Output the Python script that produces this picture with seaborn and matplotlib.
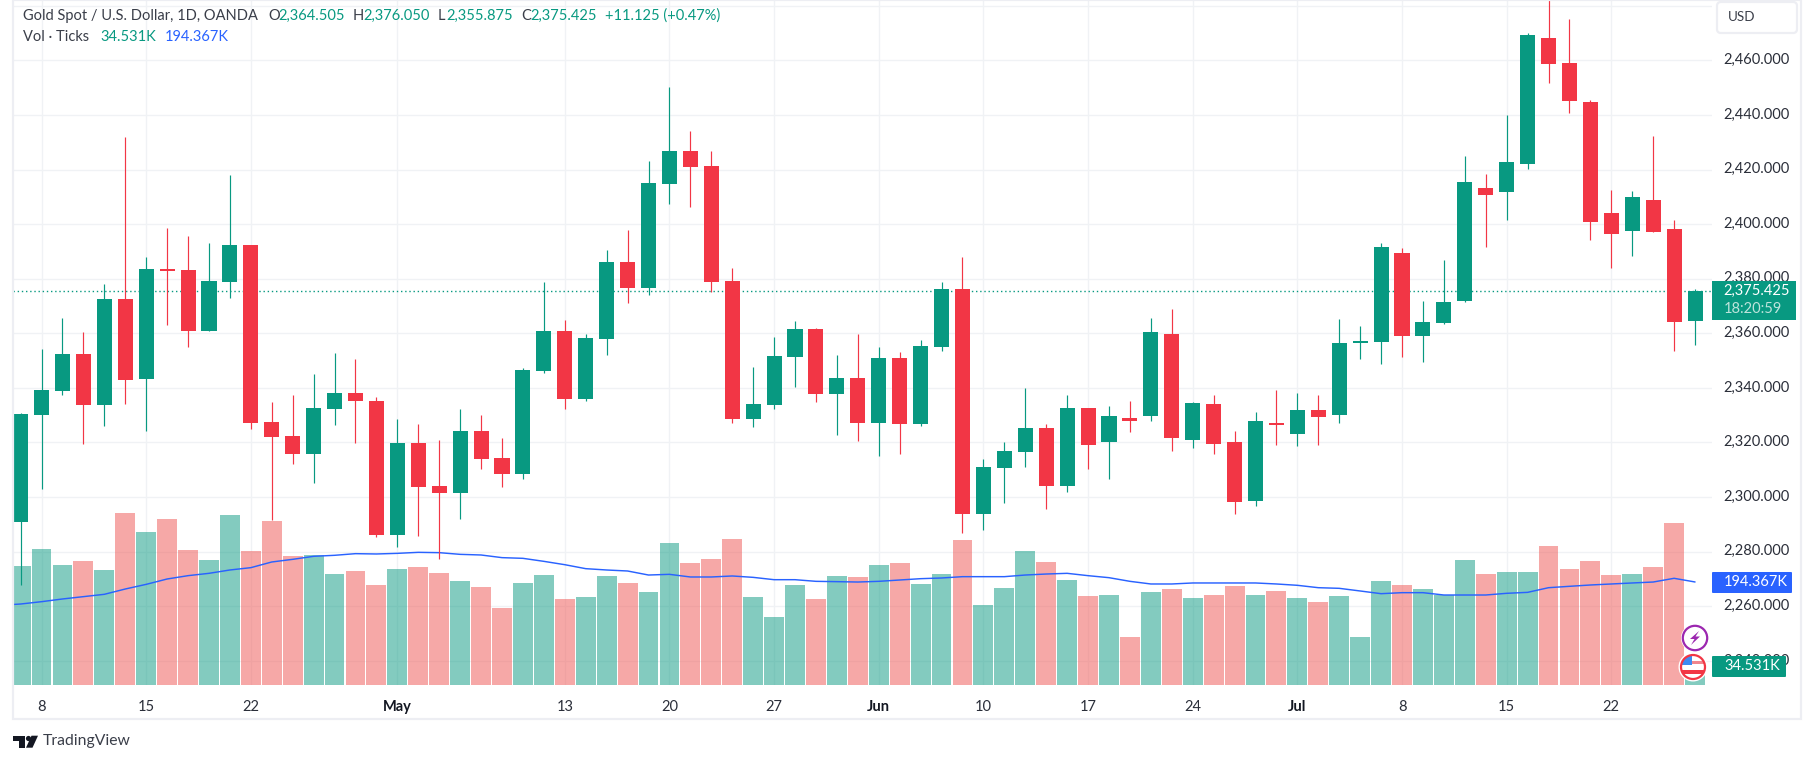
import numpy as np
import pandas as pd
import matplotlib
matplotlib.use("Agg")
import matplotlib.pyplot as plt
from matplotlib.patches import Rectangle, FancyBboxPatch, Circle, Polygon
from matplotlib.transforms import ScaledTranslation
import seaborn as sns

# ---------- data ----------
opens = [2290.8,2330.0,2338.9,2352.4,2333.7,2372.6,2343.1,2383.5,2383.2,2360.9,2378.8,2392.3,2327.5,2322.3,2315.8,2332.2,2338.1,2335.1,2286.1,2319.8,
         2304.0,2301.5,2324.1,2314.3,2308.4,2346.2,2360.9,2335.9,2358.0,2386.2,2376.6,2414.7,2426.8,2421.3,2379.2,2328.6,2333.7,2351.3,2361.6,2337.8,
         2343.7,2327.1,2351.0,2326.7,2355.0,2376.2,2293.7,2310.6,2316.5,2325.2,2304.0,2332.6,2320.1,2328.9,2329.7,2359.8,2320.8,2334.0,2320.1,2298.5,
         2327.1,2323.0,2331.9,2330.0,2356.4,2356.8,2389.4,2359.1,2363.8,2371.9,2413.3,2411.8,2422.0,2468.2,2459.0,2444.7,2404.1,2397.4,2408.8,2398.3,2364.505]
highs = [2330.9,2354.2,2365.6,2360.5,2378.1,2431.9,2388.0,2398.6,2395.6,2393.1,2418.0,2392.3,2334.8,2337.4,2345.2,2352.8,2350.5,2336.7,2328.6,2326.7,
         2320.8,2332.2,2330.0,2321.6,2347.3,2378.8,2364.9,2359.8,2390.5,2397.9,2423.1,2450.2,2434.1,2426.8,2384.0,2347.7,2358.7,2364.5,2362.0,2352.0,
         2359.8,2355.0,2353.2,2357.6,2378.8,2388.0,2313.9,2320.1,2340.1,2326.7,2337.4,2332.6,2333.3,2335.1,2365.6,2368.9,2334.8,2337.4,2324.1,2331.1,
         2339.1,2338.0,2337.4,2365.2,2362.7,2393.1,2391.3,2371.9,2386.9,2424.9,2418.4,2440.0,2470.0,2482.2,2475.1,2445.5,2412.5,2412.2,2432.3,2401.5,2376.05]
lows = [2267.7,2302.9,2337.4,2319.5,2325.9,2334.0,2324.1,2363.1,2355.0,2360.9,2373.0,2324.8,2291.6,2312.0,2305.1,2326.3,2319.8,2285.4,2281.6,2285.7,
        2277.3,2291.9,2310.2,2303.7,2306.6,2345.5,2332.2,2335.1,2352.0,2371.2,2374.1,2407.4,2406.3,2375.2,2327.1,2325.6,2332.2,2340.3,2334.8,2322.7,
        2320.5,2315.0,2315.8,2325.9,2353.5,2286.8,2287.9,2297.7,2310.9,2295.6,2301.8,2310.2,2306.6,2323.8,2327.9,2316.8,2317.9,2315.8,2293.7,2296.6,
        2319.0,2318.7,2319.0,2327.1,2350.6,2348.8,2351.3,2349.5,2363.4,2371.5,2391.6,2401.5,2420.2,2451.7,2440.7,2394.2,2384.0,2388.3,2397.1,2353.5,2355.875]
closes = [2330.4,2339.2,2352.4,2333.7,2372.6,2343.0,2383.5,2382.8,2360.9,2379.2,2392.3,2327.1,2321.9,2315.8,2332.6,2338.1,2335.1,2286.1,2319.8,2303.7,
          2301.5,2324.1,2313.9,2308.4,2346.6,2360.9,2335.9,2358.3,2386.2,2376.6,2415.1,2426.8,2420.9,2378.8,2328.6,2334.0,2351.6,2361.6,2337.8,2343.7,
          2327.1,2351.0,2326.7,2355.3,2376.2,2293.7,2310.9,2316.8,2325.2,2304.0,2332.6,2319.0,2329.7,2327.9,2360.5,2321.6,2334.4,2319.4,2298.1,2327.9,
          2326.3,2331.9,2329.3,2356.4,2357.0,2391.6,2359.1,2364.1,2371.5,2415.5,2410.6,2422.7,2469.3,2458.7,2445.1,2400.8,2396.3,2410.0,2397.1,2364.1,2375.425]
volume_k = [224.5,256.6,226.4,234.0,217.0,324.5,288.7,313.2,254.7,235.8,320.8,252.8,309.4,243.4,245.3,209.4,215.1,188.7,218.9,222.6,
            211.3,196.2,184.9,145.3,192.5,207.5,162.3,166.0,205.7,192.5,175.5,267.9,230.2,237.7,275.5,166.0,128.3,188.7,162.3,205.7,
            203.8,226.4,230.2,190.6,209.4,273.6,150.9,183.0,252.8,232.1,198.1,167.9,169.8,90.6,175.5,181.1,164.2,169.8,186.8,169.8,
            177.4,164.2,156.6,167.9,90.6,196.2,188.7,181.1,169.8,235.8,209.4,213.2,213.2,262.3,218.9,234.0,207.5,209.4,222.6,305.7,34.531]
# the moving average starts one session before the first visible bar
volume_ma_k = [150.3,152.8,157.2,162.3,166.7,171.1,181.1,189.9,200.0,206.3,210.7,217.0,221.4,232.1,237.1,242.8,244.7,247.8,247.2,248.4,250.3,
               249.7,246.5,245.3,240.3,239.0,233.3,227.0,219.5,217.0,215.1,207.5,208.8,203.8,203.8,205.7,203.1,198.7,198.7,195.6,195.0,
               194.3,195.6,198.1,200.6,201.9,204.4,204.4,204.4,207.5,209.4,210.7,206.3,202.5,195.6,190.6,190.6,192.5,192.5,192.5,192.5,
               190.6,188.1,183.6,182.4,177.4,172.3,174.2,174.2,169.8,169.8,169.8,173.0,174.8,183.6,186.2,188.7,190.6,192.5,194.3,201.3,194.367]
date_tick_positions = [1,6,11,18,26,31,36,41,46,51,56,61,66,71,76]
date_tick_labels = ["8","15","22","May","13","20","27","Jun","10","17","24","Jul","8","15","22"]
month_labels = ["May","Jun","Jul"]
price_ticks = [2240,2260,2280,2300,2320,2340,2360,2380,2400,2420,2440,2460]
grid_prices = price_ticks + [2480]
last_price = 2375.425

# ---------- style ----------
W, H = 1815, 764
GREEN, RED, BLUE = "#089981", "#F23645", "#2962FF"
TEXT = "#131722"
GRID = "#F0F2F5"
BORDER = "#EDEEF3"
sns.set_theme(style="white")
plt.rcParams["font.family"] = ["Lato", "DejaVu Sans"]
FS = 10.5

df = pd.DataFrame({"idx": np.arange(len(opens)), "open": opens, "high": highs, "low": lows,
                   "close": closes, "vol": volume_k})
df["dir"] = np.where(df.close >= df.open, "up", "down")
ma_df = pd.DataFrame({"idx": np.arange(-1, len(opens)), "ma": volume_ma_k})

fig = plt.figure(figsize=(W/100, H/100), dpi=100, facecolor="white")
L, R, T, B = 13, 1712, 0, 685
rect = [L/W, 1-B/H, (R-L)/W, (B-T)/H]
ax_vol = fig.add_axes(rect, zorder=1)
ax = fig.add_axes(rect, zorder=2, facecolor="none")
overlay = fig.add_axes([0, 0, 1, 1], zorder=5, facecolor="none")
overlay.set_xlim(0, W); overlay.set_ylim(H, 0); overlay.axis("off")

xlim = (-0.363, 80.81)
ylim = (2231.17, 2482.09)

# volume
for xt in date_tick_positions:
    ax_vol.axvline(xt, color=GRID, lw=1, zorder=0)
sns.barplot(data=df, x="idx", y="vol", hue="dir", palette={"up": "#089981", "down": "#EF5350"},
            hue_order=["up", "down"], dodge=False, width=0.95, saturation=1, alpha=0.5,
            linewidth=0, legend=False, ax=ax_vol, zorder=2)
sns.lineplot(data=ma_df, x="idx", y="ma", color=BLUE, lw=1.05, errorbar=None, legend=False, ax=ax_vol, zorder=3)
ax_vol.set_xlim(xlim); ax_vol.set_ylim(0, 685/0.53)
ax_vol.set_xticks([]); ax_vol.set_yticks([]); ax_vol.set_xlabel(""); ax_vol.set_ylabel("")
for p in grid_prices:
    y = (p-ylim[0])/(ylim[1]-ylim[0])*685/0.53
    ax_vol.axhline(y, color=GRID, lw=1, zorder=0)
sns.despine(ax=ax_vol, left=True, bottom=True, right=True, top=True)

# candles
colors = df.dir.map({"up": GREEN, "down": RED})
ax.vlines(df.idx, df.low, df.high, colors=colors, lw=0.85, zorder=3)
ax.bar(df.idx, (df.close-df.open).abs(), bottom=df[["open", "close"]].min(axis=1),
       width=0.72, color=colors, linewidth=0, zorder=4)
ax.axhline(last_price, color=GREEN, lw=1, ls=(0, (1, 2)), zorder=2)
ax.set_xlim(xlim); ax.set_ylim(ylim)
ax.yaxis.tick_right()
ax.set_yticks(price_ticks)
ax.set_yticklabels([f"{p:,.3f}" for p in price_ticks], fontsize=FS, color="#2A2E39")
ax.set_xticks(date_tick_positions)
ax.set_xticklabels(date_tick_labels, fontsize=FS, color="#2A2E39")
for t in ax.get_xticklabels():
    if t.get_text() in month_labels:
        t.set_fontweight("bold"); t.set_color(TEXT)
ax.tick_params(axis="y", length=0, pad=8)
ax.tick_params(axis="x", length=0, pad=10.5)
# the price labels sit slightly above their gridlines
lift = ScaledTranslation(0, 2/100, fig.dpi_scale_trans)
for t in ax.get_yticklabels():
    t.set_transform(t.get_transform() + lift)
for s in ax.spines.values():
    s.set_visible(False)

# frame
overlay.add_patch(Rectangle((13, 0), 1788, 719, fill=False, edgecolor=BORDER, lw=1.6, zorder=1))

# header
def htext(x, y, s, c=TEXT, **k):
    overlay.text(x, y, s, color=c, fontsize=k.pop("fs", FS), va="center", ha="left", **k)
TXT2 = "#3A3E49"
htext(23, 16, "Gold Spot / U.S. Dollar, 1D, OANDA", TXT2)
for x, s in [(268, "O"), (353, "H"), (438, "L"), (521, "C")]:
    htext(x, 16, s, TXT2)
for x, s in [(278, "2,364.505"), (363, "2,376.050"), (446, "2,355.875"), (530, "2,375.425"), (605, "+11.125 (+0.47%)")]:
    htext(x, 16, s, GREEN)
htext(23, 37, "Vol · Ticks", TXT2)
htext(100, 37, "34.531K", GREEN)
htext(165, 37, "194.367K", BLUE)

# right scale labels
overlay.add_patch(FancyBboxPatch((1717, 2), 80, 31, boxstyle="round,pad=0,rounding_size=4",
                                 fc="white", ec=BORDER, lw=1.6))
htext(1728, 17, "USD", TXT2, fs=FS-0.8)
overlay.add_patch(Rectangle((1712, 281), 84, 39, fc=GREEN, ec="none"))
overlay.text(1723.5, 291, "2,375.425", color="white", fontsize=FS, va="center", ha="left")
overlay.text(1724, 309, "18:20:59", color="#BDE4DC", fontsize=FS, va="center", ha="left")
overlay.add_patch(FancyBboxPatch((1712, 572), 80, 21, boxstyle="round,pad=0,rounding_size=1", fc=BLUE, ec="none"))
overlay.text(1724, 582.5, "194.367K", color="white", fontsize=FS, va="center", ha="left")
overlay.add_patch(FancyBboxPatch((1712, 656), 74, 21, boxstyle="round,pad=0,rounding_size=1", fc=GREEN, ec="none"))
overlay.text(1724, 666.5, "34.531K", color="white", fontsize=FS, va="center", ha="left")

# event icons
cx, cy = 1695, 638
overlay.add_patch(Circle((cx, cy), 14, fc="white", ec="none"))
overlay.add_patch(Circle((cx, cy), 12.2, fc="white", ec="#9C27B0", lw=1.6))
overlay.add_patch(Polygon([(cx+4, cy-7), (cx-5, cy+1), (cx-0.5, cy+1), (cx-4, cy+7), (cx+5, cy-1.5), (cx+0.5, cy-1.5)],
                          fc="#9C27B0", ec="none"))
cx, cy = 1693, 667
overlay.add_patch(Circle((cx, cy), 14.5, fc="white", ec="none"))
clip = Circle((cx, cy), 12, transform=overlay.transData)
for x0, y0, w, h, c in [(cx-12, cy-11, 11, 9, "#3D8BF2"), (cx-1, cy-6, 13, 3, "#F0868E"), (cx-12, cy+3, 24, 3.5, RED)]:
    r = Rectangle((x0, y0), w, h, fc=c, ec="none")
    overlay.add_patch(r); r.set_clip_path(clip)
overlay.add_patch(Circle((cx, cy), 12, fill=False, ec=RED, lw=1.6))

# logo
K = "#131722"
overlay.add_patch(Polygon([(13, 735.7), (25, 735.7), (25, 747.7), (19, 747.7), (19, 741), (13, 741)], fc=K, ec="none"))
overlay.add_patch(Circle((28.5, 738.5), 2.6, fc=K, ec="none"))
overlay.add_patch(Polygon([(31.5, 735.7), (38, 735.7), (32.5, 747.7), (26, 747.7)], fc=K, ec="none"))
overlay.text(43, 741.5, "TradingView", color="#3A3E49", fontsize=FS+0.8, va="center", ha="left")

fig.savefig("out.png", dpi=100, facecolor="white")
